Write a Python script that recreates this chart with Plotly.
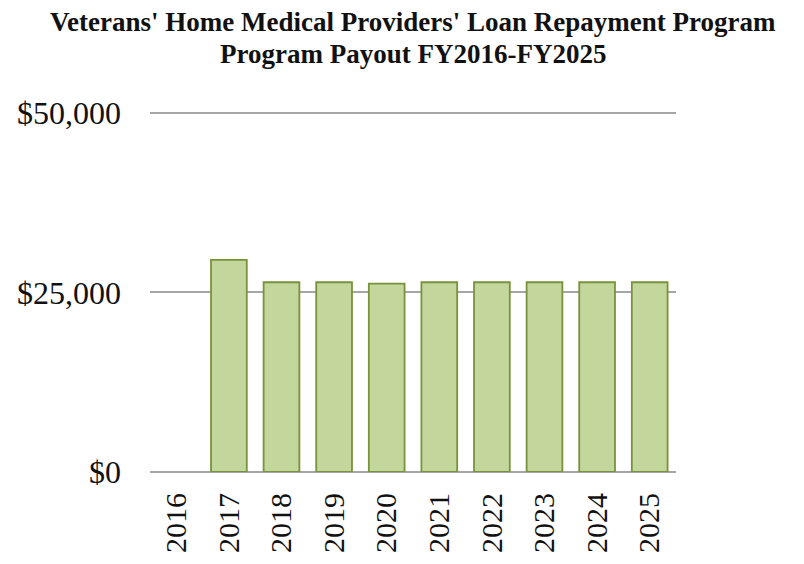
import plotly.graph_objects as go

years = ["2016", "2017", "2018", "2019", "2020", "2021", "2022", "2023", "2024", "2025"]
payout = [0, 29500, 26400, 26400, 26200, 26400, 26400, 26400, 26400, 26400]
y_ticks = [0, 25000, 50000]
y_tick_labels = ["$0", "$25,000", "$50,000"]
title_lines = ["Veterans' Home Medical Providers' Loan Repayment Program",
               "Program Payout FY2016-FY2025"]

outline_widths = [0 if v == 0 else 1.8 for v in payout]

fig = go.Figure(go.Bar(
    x=years, y=payout,
    marker=dict(color="#c3d69b", line=dict(color="#77933c", width=outline_widths)),
))

H_TOP, H_BOT = 101, 464
def paper_y(px):
    return (H_BOT - px) / (H_BOT - H_TOP)

for line, yc in zip(title_lines, [14, 46]):
    fig.add_annotation(
        text=f"<b>{line}</b>", xref="paper", yref="paper",
        x=0.5, y=paper_y(yc), xanchor="center", yanchor="middle",
        showarrow=False,
        font=dict(family="Liberation Serif", size=27, color="#111111"),
    )

fig.update_layout(
    width=804, height=564,
    margin=dict(l=142, r=136, t=H_TOP, b=564 - H_BOT, autoexpand=False),
    paper_bgcolor="white", plot_bgcolor="white",
    bargap=0.32,
    showlegend=False,
    font=dict(family="Liberation Serif", color="#111111"),
)
fig.update_yaxes(
    range=[0, 50500], tickvals=y_ticks, ticktext=y_tick_labels,
    showgrid=True, gridcolor="#a6a6a6", gridwidth=1.5,
    zeroline=True, zerolinecolor="#a6a6a6", zerolinewidth=1.5,
    showline=False, ticks="", ticklabelstandoff=28, automargin=False,
    tickfont=dict(family="Liberation Serif", size=32, color="#111111"),
)
fig.update_xaxes(
    type="category", tickangle=-90, showgrid=False, showline=False, ticks="",
    ticklabelstandoff=14, automargin=False,
    tickfont=dict(family="Liberation Serif", size=30, color="#111111"),
)

fig.write_html("out.html")
